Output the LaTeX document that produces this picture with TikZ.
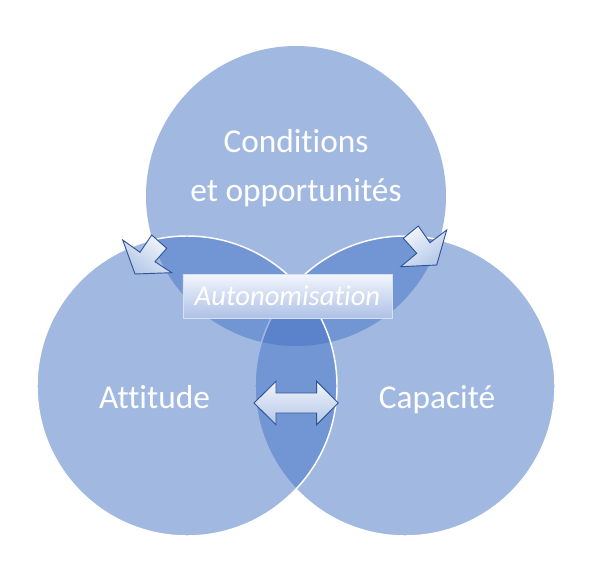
\documentclass[tikz,border=0pt]{standalone}
\usepackage{fontspec}
\setmainfont[Ligatures=NoCommon]{Carlito}
\definecolor{venn}{HTML}{4472C4}
\definecolor{arrowline}{HTML}{2F5597}
\definecolor{arrowlight}{HTML}{F2F5FC}
\definecolor{arrowdark}{HTML}{B4C7E7}
\definecolor{boxtop}{HTML}{F3F6FC}
\definecolor{boxbot}{HTML}{AEC1E6}
\definecolor{boxrim}{HTML}{D6E0F3}

\begin{document}
\begin{tikzpicture}[x=0.75pt, y=-0.75pt,
    vennset/.style={fill=venn, fill opacity=0.5},
    vennrim/.style={draw=white, line width=1.1pt},
    blockarrow/.style={draw=arrowline, line width=0.7pt, line join=miter},
    settext/.style={text=white, font=\fontsize{25}{30}\selectfont, anchor=base},
    autobox/.style={top color=boxtop, bottom color=boxbot, draw=boxrim,
      line width=0.4pt, minimum width=157pt, minimum height=33pt,
      text=white, font=\itshape\fontsize{21.5}{26}\selectfont}]

    % page frame
    \useasboundingbox (0,0) rectangle (600,567);

    % --- The three sets ---
    \fill[vennset] (296,196) circle (150);
    \draw[vennset, vennrim] (405,386) circle (150);
    \draw[vennset, vennrim] (187,386) circle (150);

    % Block arrows from the top set down to the two others
    \shade[blockarrow, top color=arrowlight, bottom color=arrowdark, shading angle=-35]
      (135,274) -- (122.7,240) -- (140,252.3) -- (151.7,235)
      -- (166.7,248.3) -- (155,261.7) -- (171.7,272.7) -- cycle;
    \shade[blockarrow, top color=arrowlight, bottom color=arrowdark, shading angle=35]
      (436.7,265) -- (400.7,266.7) -- (416.7,253.3) -- (403.3,238.3)
      -- (418.3,226) -- (430,242.7) -- (446.7,230) -- cycle;

    % Double arrow between Attitude and Capacite
    \shade[blockarrow, top color=arrowlight, bottom color=arrowdark]
      (254,403) -- (276,381.3) -- (276,393) -- (316.7,393) -- (316.7,381.3)
      -- (338.3,403) -- (316.7,424.7) -- (316.7,413) -- (276,413)
      -- (276,424.7) -- cycle;

    % Labels
    \node[settext] (cond) at (296,152) {Conditions};
    \node[settext] (oppo) at (296,201) {et opportunités};
    \node[settext] (atti) at (154.5,408) {Attitude};
    \node[settext] (capa) at (437,408) {Capacité};

    % Centre box
    \node[autobox] (auto) at (287.5,296) {Autonomisation};

\end{tikzpicture}
\end{document}
